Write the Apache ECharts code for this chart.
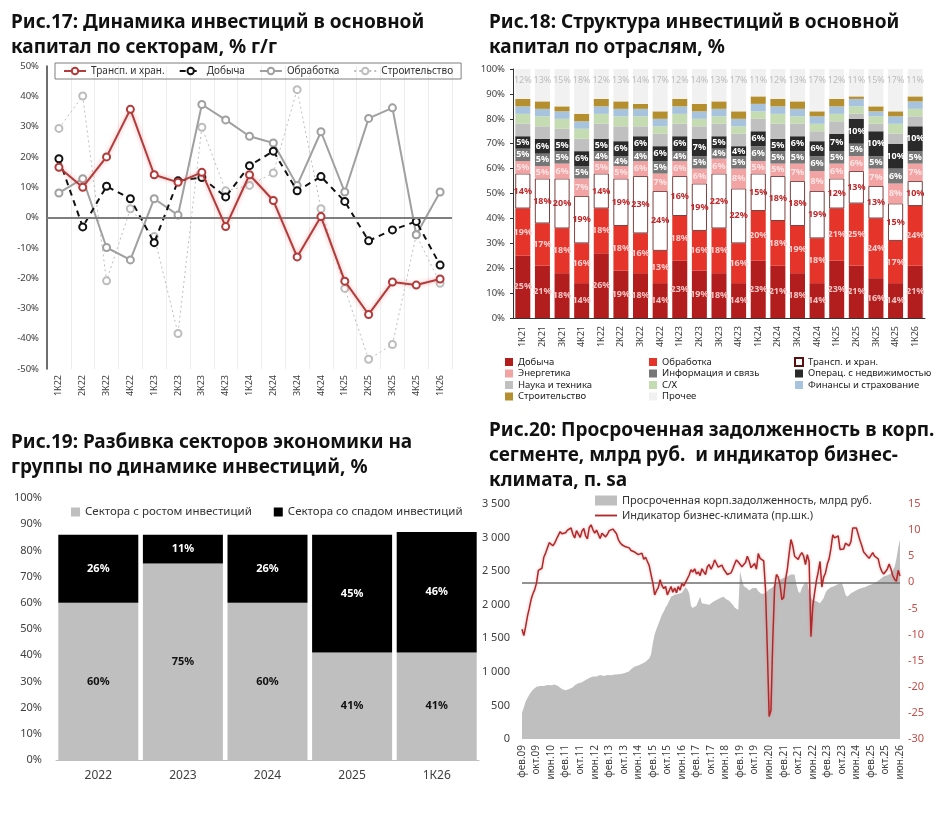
<!DOCTYPE html>
<html><head><meta charset="utf-8">
<script src="https://cdn.jsdelivr.net/npm/echarts@6/dist/echarts.min.js"></script>
<style>
body{margin:0;background:#fff;width:935px;height:816px;overflow:hidden;position:relative}
.c{position:absolute}
</style></head><body>
<div id="c1" class="c" style="left:0;top:0;width:470px;height:410px"></div>
<div id="c2" class="c" style="left:470px;top:0;width:465px;height:410px"></div>
<div id="c3" class="c" style="left:0;top:410px;width:480px;height:406px"></div>
<div id="c4" class="c" style="left:470px;top:410px;width:465px;height:406px"></div>
<script>
// ---------- Fig.17 ----------
const f17Cats = ['1К22','2К22','3К22','4К22','1К23','2К23','3К23','4К23','1К24','2К24','3К24','4К24','1К25','2К25','3К25','4К25','1К26'];
const f17Trans = [16.6,10,20,35.7,14.1,11.6,14.9,-3,14.1,5.6,-13,0.3,-21,-32,-21.3,-22.3,-20.3];
const f17Dob = [19.4,-3.1,10.3,6.2,-8.3,12.1,13.2,6.8,17.1,21.9,8.8,13.5,5.3,-7.7,-4.1,-1.3,-15.7];
const f17Obr = [8.1,12.8,-9.9,-14,6.2,0.8,37.3,32.2,26.8,24.6,10.6,28.3,8.4,32.7,36.2,-5.7,8.4];
const f17Str = [29.4,40.1,-20.9,2.9,-6.3,-38.3,29.8,8.8,10.6,14.7,42.2,2.9,-23.4,-46.8,-41.9,-5.7,-21.7];

// ---------- Fig.18 ----------
const f18Cats = ['1К21','2К21','3К21','4К21','1К22','2К22','3К22','4К22','1К23','2К23','3К23','4К23','1К24','2К24','3К24','4К24','1К25','2К25','3К25','4К25','1К26'];
const f18Dob = [25,21,18,14,26,19,18,14,23,19,18,14,23,21,18,14,23,21,16,14,21];
const f18Obr = [19,17,18,16,18,18,16,13,18,16,18,16,20,18,19,18,21,25,24,17,24];
const f18Tra = [14,18,20,19,14,19,23,24,16,19,22,22,15,18,18,19,12,13,13,15,10];
const f18Ene = [5,5,6,7,5,5,6,7,6,6,6,8,5,5,7,8,6,6,7,8,7];
const f18Inf = [5,5,5,5,4,4,4,5,4,5,4,5,6,5,5,6,5,5,5,6,5];
const f18Ope = [5,6,5,6,5,6,6,6,6,7,5,4,6,5,6,6,7,10,10,10,10];
const f18Nau = [5,5,4,5,6,6,4,5,5,5,5,5,5,6,5,4,5,2,3,4,4];
const f18Sx  = [4,4,4,4,4,4,4,3,4,3,3,3,3,4,3,3,3,3,3,4,3];
const f18Fin = [3,3,3,3,3,3,3,3,3,3,3,3,3,3,3,3,3,3,2,3,3];
const f18Stro= [3,3,2,3,3,3,2,3,3,3,3,3,3,3,3,2,3,1,2,2,2];
const f18Pro = [12,13,15,18,12,13,14,17,12,14,13,17,11,12,13,17,12,11,15,17,11];

// ---------- Fig.19 ----------
const f19Cats = ['2022','2023','2024','2025','1К26'];
const f19Up = [60,75,60,41,41];
const f19Down = [26,11,26,45,46];

// ---------- Fig.20 ----------
const f20MonthNames = ['янв','фев','мар','апр','май','июн','июл','авг','сен','окт','ноя','дек'];
const f20Debt = [390,470,560,610,660,700,735,760,780,770,790,775,790,800,805,810,800,795,810,790,
785,760,745,740,725,730,745,760,770,800,820,830,840,845,860,880,895,910,925,930,
935,930,945,955,950,940,945,955,960,950,955,960,950,965,975,970,980,985,990,1010,
1040,1060,1080,1100,1095,1110,1120,1130,1150,1160,1200,1260,1430,1560,1640,1710,1780,1850,1900,1960,
2000,2060,2120,2100,2150,2130,2160,2140,2180,2200,2260,2230,2170,1980,1950,1970,1990,2010,2120,2020,
2000,2010,1990,2000,2020,2040,2060,2070,2090,2100,2080,2120,2090,2070,2060,2040,2000,1960,1940,1920,
2500,2380,2280,2260,2240,2210,2230,2250,2270,2250,2200,2180,2160,2150,2170,2200,2230,2220,2260,2300,
2330,2350,2370,2370,2400,2420,2420,2440,2450,2460,2450,2300,2200,2170,2250,2300,2320,2330,2200,2100,
2070,2070,2050,2030,2020,2030,2100,2180,2220,2240,2260,2270,2280,2300,2310,2320,2320,2250,2150,2120,
2140,2170,2190,2200,2220,2230,2240,2250,2260,2265,2270,2290,2300,2310,2320,2340,2360,2380,2400,2420,
2430,2440,2450,2460,2480,2560,2680,2850,2970];
const f20Climate = [-9,-10.2,-8.5,-6.5,-5,-3.3,-2.2,-1.4,-0.1,2.3,2.5,2.7,4.8,5.6,5.6,7.6,7.8,7,7.5,8.3,
8,9.7,9.3,9.6,9.5,10,9.8,10.4,9.2,8.5,9.9,10.2,8.6,9.8,10.3,8.9,8.3,10.5,11,10.1,
9.4,10,9.7,8.4,9.4,9.6,8.7,9.2,9.9,9.6,10.2,10.3,9.3,8.2,7.6,7.2,6.9,6.8,6.5,6.6,
6.1,6.4,5.8,5.9,5.3,5.0,5.6,4.4,4.8,4.0,3.2,1.5,-0.1,-2.4,-1.6,-1.0,0.5,-0.6,-1.2,-0.8,
-2.4,-1.6,-0.8,-1.9,-1.1,-2.0,-0.8,-1.5,-0.2,-0.7,0,0.2,1.4,2.4,2.0,2.6,1.6,2.0,1.3,2.6,
2.0,1.5,3.0,3.4,2.5,3.2,4.3,3.6,2.9,2.7,3.3,2.5,2.4,1.5,1.8,1.8,2.6,3.5,4.3,3.9,
3.6,3.0,2.9,3.8,5.0,4.1,2.8,3.0,3.6,2.5,5.5,4.6,4.4,4.1,-1.4,-13,-25.7,-24.5,-11,-1,
1.5,1.0,-0.5,-3.3,-2.9,0.5,2.5,5.5,8.2,7.0,5.0,4.7,4.4,5.2,5.7,5.0,3.4,5.3,4.0,-10.4,
-4.6,-2.0,0.3,2.0,4.0,-0.9,1.0,1.8,3.5,4.5,6.5,9.1,8.5,8.2,8.9,6.3,6.0,6.4,7.5,7.2,
7.0,7.8,10.4,10.6,10.4,10.2,8.0,7.0,5.8,5.6,5.0,4.6,4.8,5.7,5.0,5.2,4.5,3.0,2.1,1.6,
1.5,2.5,3.5,2.6,1.3,0.6,0.2,2.3,1.2];
const f20Months = f20Debt.map((_, i) => {
  const m = (1 + i) % 12, y = 9 + Math.floor((1 + i) / 12);
  return f20MonthNames[m] + '.' + String(y).padStart(2, '0');
});

const FONT = 'Noto Sans';
const TITLE = {fontFamily: FONT, fontWeight: 'bold', fontSize: 19, color: '#111', lineHeight: 25};
const AX = '#404040';
const LINE_ICON = 'path://M0,0h24v2h-24z';

// ---- Chart 1
const ch1 = echarts.init(document.getElementById('c1'));
const zeroLine = {silent: true, symbol: 'none', label: {show: false}, lineStyle: {color: '#7f7f7f', width: 2, type: 'solid'}, data: [{yAxis: 0}]};
ch1.setOption({
  animation: false,
  textStyle: {fontFamily: FONT},
  title: {text: 'Рис.17: Динамика инвестиций в основной\nкапитал по секторам, % г/г', left: 6, top: 5, textStyle: TITLE},
  grid: {left: 47, right: 18, top: 66, bottom: 41},
  legend: {top: 63, left: 55, padding: [3, 8], itemGap: 14, itemWidth: 22, itemHeight: 8,
    borderColor: '#7f7f7f', borderWidth: 1, textStyle: {fontSize: 10, color: '#333'},
    data: ['Трансп. и хран.', 'Добыча', 'Обработка', 'Строительство']},
  xAxis: {type: 'category', data: f17Cats, boundaryGap: true,
    axisLine: {show: false}, axisTick: {show: false},
    axisLabel: {rotate: 90, fontSize: 9, color: AX, margin: 6},
    splitLine: {show: true, lineStyle: {color: '#ededed'}}},
  yAxis: {type: 'value', min: -50, max: 50, interval: 10,
    axisLine: {show: true, lineStyle: {color: AX, width: 1.5}},
    axisLabel: {formatter: '{value}%', fontSize: 9.5, color: AX}, splitLine: {show: false}},
  series: [
    {name: 'Трансп. и хран.', type: 'line', data: f17Trans, symbol: 'emptyCircle', symbolSize: 7, z: 5,
      lineStyle: {color: '#b23b3b', width: 2, shadowColor: 'rgba(235,110,110,0.6)', shadowBlur: 4},
      itemStyle: {color: '#b23b3b', borderWidth: 1.3}, markLine: zeroLine},
    {name: 'Добыча', type: 'line', data: f17Dob, symbol: 'emptyCircle', symbolSize: 7, z: 4,
      lineStyle: {color: '#111', width: 2, type: [6, 5]}, itemStyle: {color: '#111', borderWidth: 1.3}},
    {name: 'Обработка', type: 'line', data: f17Obr, symbol: 'emptyCircle', symbolSize: 7, z: 3,
      lineStyle: {color: '#a0a0a0', width: 2}, itemStyle: {color: '#a0a0a0', borderWidth: 1.3}},
    {name: 'Строительство', type: 'line', data: f17Str, symbol: 'emptyCircle', symbolSize: 7, z: 2,
      lineStyle: {color: '#bdbdbd', width: 1, type: [2, 3]}, itemStyle: {color: '#bdbdbd', borderWidth: 1.3}}
  ]
});

// ---- Chart 2
const ch2 = echarts.init(document.getElementById('c2'));
const pct = p => p.value + '%';
function seg(name, data, color, lblColor, extra) {
  return Object.assign({
    name, type: 'bar', stack: 's', data, barWidth: 15,
    itemStyle: {color},
    label: lblColor ? {show: true, position: 'inside', formatter: pct, fontSize: 9, fontWeight: 'bold', color: lblColor} : {show: false}
  }, extra || {});
}
const legCommon = {orient: 'vertical', itemGap: 1.5, itemWidth: 8, itemHeight: 8, icon: 'rect', textStyle: {fontSize: 9.5, color: '#222'}};
ch2.setOption({
  animation: false,
  textStyle: {fontFamily: FONT},
  title: {text: 'Рис.18: Структура инвестиций в основной\nкапитал по отраслям, %', left: 14, top: 5, textStyle: TITLE},
  grid: {left: 43, right: 10, top: 69, bottom: 92},
  legend: [
    Object.assign({left: 30, top: 352, data: ['Добыча', 'Энергетика', 'Наука и техника', 'Строительство']}, legCommon),
    Object.assign({left: 174, top: 352, data: ['Обработка', 'Информация и связь', 'С/Х', 'Прочее']}, legCommon),
    Object.assign({left: 319, top: 352, data: ['Трансп. и хран.', 'Операц. с недвижимостью', 'Финансы и страхование']}, legCommon)
  ],
  xAxis: {type: 'category', data: f18Cats, axisTick: {show: false},
    axisLine: {lineStyle: {color: '#333'}},
    axisLabel: {rotate: 90, fontSize: 9, color: AX, margin: 8}},
  yAxis: {type: 'value', min: 0, max: 100, interval: 10,
    axisLine: {show: true, lineStyle: {color: '#333'}}, axisTick: {show: true, length: 3},
    axisLabel: {formatter: '{value}%', fontSize: 9.5, color: AX}, splitLine: {show: false}},
  series: [
    seg('Добыча', f18Dob, '#b21d1d', '#f7c4c4'),
    seg('Обработка', f18Obr, '#e5352b', '#f9cfcf'),
    seg('Трансп. и хран.', f18Tra, '#ffffff', '#c0282a', {itemStyle: {color: '#ffffff', borderColor: '#5a1010', borderWidth: 0.8}}),
    seg('Энергетика', f18Ene, '#f2a3a3', '#fbe4e4'),
    seg('Информация и связь', f18Inf, '#777777', '#ffffff'),
    seg('Операц. с недвижимостью', f18Ope, '#2a2a2a', '#ffffff'),
    seg('Наука и техника', f18Nau, '#c0c0c0', null),
    seg('С/Х', f18Sx, '#c5dbb2', null),
    seg('Финансы и страхование', f18Fin, '#a7c3dd', null),
    seg('Строительство', f18Stro, '#b58f2e', null),
    seg('Прочее', f18Pro, '#f1f1f1', null, {label: {show: true, position: 'insideTop', distance: 7, formatter: pct, fontSize: 9, color: '#bdbdbd'}})
  ]
});

// ---- Chart 3
const ch3 = echarts.init(document.getElementById('c3'));
ch3.setOption({
  animation: false,
  textStyle: {fontFamily: FONT},
  title: {text: 'Рис.19: Разбивка секторов экономики на\nгруппы по динамике инвестиций, %', left: 6, top: 15, textStyle: TITLE},
  grid: {left: 56, right: 1, top: 88, bottom: 56},
  legend: {top: 91, left: 66, itemGap: 22, itemWidth: 9, itemHeight: 9, icon: 'rect', textStyle: {fontSize: 11.5, color: '#333'},
    data: ['Сектора с ростом инвестиций', 'Сектора со спадом инвестиций']},
  xAxis: {type: 'category', data: f19Cats, axisTick: {show: false},
    axisLine: {lineStyle: {color: '#bfbfbf'}}, axisLabel: {fontSize: 12, color: AX, margin: 10}},
  yAxis: {type: 'value', min: 0, max: 100, interval: 10, axisLine: {show: false}, axisTick: {show: false},
    axisLabel: {formatter: '{value}%', fontSize: 11, color: AX, margin: 14}, splitLine: {show: false}},
  series: [
    {name: 'Сектора с ростом инвестиций', type: 'bar', stack: 's', data: f19Up, barWidth: 80,
      itemStyle: {color: '#bfbfbf'}, label: {show: true, formatter: pct, fontSize: 11, fontWeight: 'bold', color: '#111'}},
    {name: 'Сектора со спадом инвестиций', type: 'bar', stack: 's', data: f19Down, barWidth: 80,
      itemStyle: {color: '#000000'}, label: {show: true, formatter: pct, fontSize: 11, fontWeight: 'bold', color: '#fff'}}
  ]
});

// ---- Chart 4
const ch4 = echarts.init(document.getElementById('c4'));
const thou = v => v >= 1000 ? Math.floor(v / 1000) + ' ' + String(v % 1000).padStart(3, '0') : String(v);
ch4.setOption({
  animation: false,
  textStyle: {fontFamily: FONT},
  title: {text: 'Рис.20: Просроченная задолженность в корп.\nсегменте, млрд руб.  и индикатор бизнес-\nклимата, п. sa', left: 14, top: 3, textStyle: TITLE},
  grid: {left: 52, right: 35, top: 94, bottom: 77},
  legend: {orient: 'vertical', top: 80, left: 120, itemGap: 4, itemWidth: 22, itemHeight: 10, textStyle: {fontSize: 11, color: '#333'},
    data: [{name: 'Просроченная корп.задолженность, млрд руб.', icon: 'rect'}, {name: 'Индикатор бизнес-климата (пр.шк.)', icon: LINE_ICON}]},
  xAxis: {type: 'category', data: f20Months, boundaryGap: false, axisLine: {show: false}, axisTick: {show: false},
    axisLabel: {interval: 7, rotate: 90, fontSize: 10, color: AX, margin: 6}},
  yAxis: [
    {type: 'value', min: 0, max: 3500, interval: 500, axisLine: {show: false}, axisTick: {show: false},
      axisLabel: {formatter: thou, fontSize: 11, color: AX, margin: 12}, splitLine: {show: false}},
    {type: 'value', min: -30, max: 15, interval: 5, position: 'right', axisLine: {show: false}, axisTick: {show: false},
      axisLabel: {fontSize: 11, color: '#c0504d', margin: 8}, splitLine: {show: false}}
  ],
  series: [
    {name: 'Просроченная корп.задолженность, млрд руб.', type: 'line', data: f20Debt, yAxisIndex: 0, symbol: 'none',
      color: '#bfbfbf', lineStyle: {width: 0}, areaStyle: {color: '#bfbfbf', opacity: 1}},
    {name: 'Индикатор бизнес-климата (пр.шк.)', type: 'line', data: f20Climate, yAxisIndex: 1, symbol: 'none', z: 5,
      color: '#b0282a', lineStyle: {color: '#b0282a', width: 1.5, shadowColor: 'rgba(235,120,120,0.6)', shadowBlur: 3},
      markLine: {silent: true, symbol: 'none', label: {show: false}, lineStyle: {color: '#6f6f6f', width: 1.5, type: 'solid'}, data: [{yAxis: 0}]}}
  ]
});
</script>
</body></html>
